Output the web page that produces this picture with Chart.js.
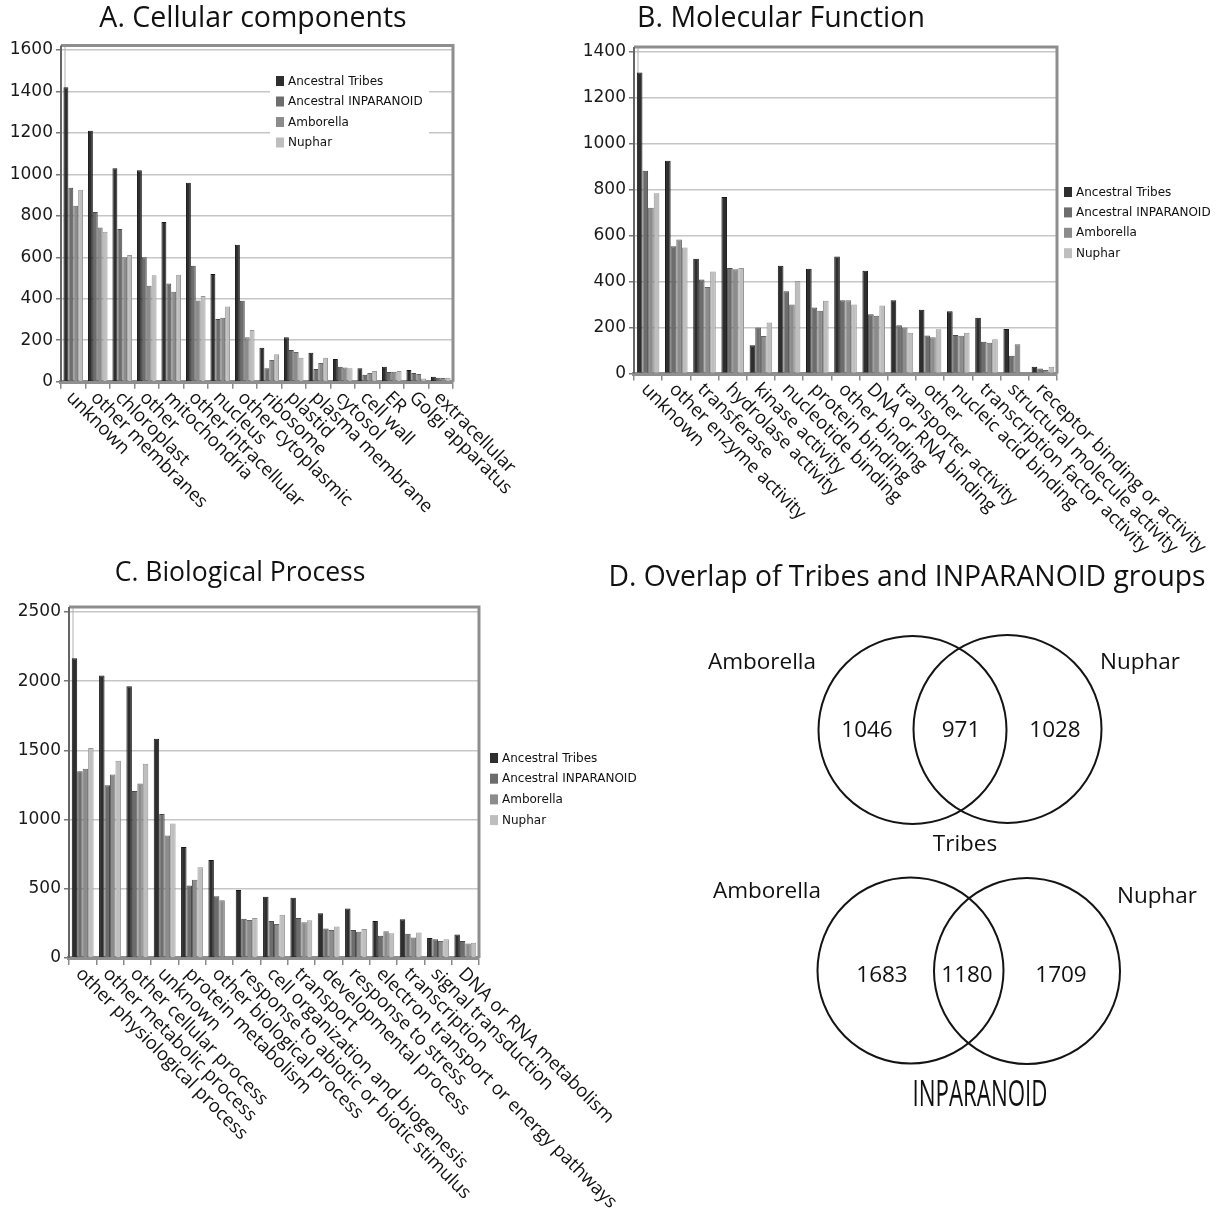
<!DOCTYPE html>
<html>
<head>
<meta charset="utf-8">
<script src="https://cdn.jsdelivr.net/npm/chart.js@4.4.1/dist/chart.umd.min.js"></script>
<style>
html,body{margin:0;padding:0;background:#fff;}
body{width:1230px;height:1214px;position:relative;overflow:hidden;}
canvas{position:absolute;}
</style>
</head>
<body>
<canvas id="chartA" style="left:0px;top:0px" width="560" height="540"></canvas>
<canvas id="chartB" style="left:560px;top:0px" width="670" height="560"></canvas>
<canvas id="chartC" style="left:0px;top:540px" width="648" height="674"></canvas>
<canvas id="chartD" style="left:600px;top:540px" width="630" height="570"></canvas>
<script>
// ---------- DATA ----------
const seriesNames = ['Ancestral Tribes', 'Ancestral INPARANOID', 'Amborella', 'Nuphar'];

// A. Cellular components
const ccCategories = ['unknown', 'other membranes', 'chloroplast', 'other', 'mitochondria', 'other intracellular', 'nucleus', 'other cytoplasmic', 'ribosome', 'plastid', 'plasma membrane', 'cytosol', 'cell wall', 'ER', 'Golgi apparatus', 'extracellular'];
const ccTribes     = [1420, 1210, 1030, 1020, 770, 960, 520, 660, 164, 214, 140, 109, 65, 72, 56, 24];
const ccInparanoid = [ 935,  818,  736,  600, 474, 559, 302, 391,  65, 153,  61,  72, 33, 47, 42, 19];
const ccAmborella  = [ 849,  744,  600,  463, 434, 392, 309, 215, 105, 143,  90,  68, 42, 48, 37, 18];
const ccNuphar     = [ 926,  723,  611,  514, 516, 413, 363, 249, 133, 115, 115,  65, 52, 52, 15, 19];

// B. Molecular Function
const mfCategories = ['unknown', 'other enzyme activity', 'transferase', 'hydrolase activity', 'kinase activity', 'nucleotide binding', 'protein binding', 'other binding', 'DNA or RNA binding', 'transporter activity', 'other', 'nucleic acid binding', 'transcription factor activity', 'structural molecule activity', 'receptor binding or activity'];
const mfTribes     = [1310, 926, 499, 768, 123, 469, 456, 509, 447, 319, 277, 271, 243, 194, 29];
const mfInparanoid = [ 882, 554, 409, 459, 200, 358, 287, 319, 258, 210, 165, 168, 138,  77, 22];
const mfAmborella  = [ 721, 583, 376, 454, 163, 300, 273, 319, 251, 200, 158, 164, 134, 127, 15];
const mfNuphar     = [ 784, 548, 444, 459, 222, 402, 316, 300, 296, 177, 192, 177, 149,   0, 29];

// C. Biological Process
const bpCategories = ['other physiological process', 'other metabolic process', 'other cellular process', 'unknown', 'protein metabolism', 'other biological process', 'response to abiotic or biotic stimulus', 'cell organization and biogenesis', 'transport', 'developmental process', 'response to stress', 'electron transport or energy pathways', 'transcription', 'signal transduction', 'DNA or RNA metabolism'];
const bpTribes     = [2165, 2042, 1963, 1585, 802, 708, 491, 443, 436, 323, 357, 267, 280, 145, 170];
const bpInparanoid = [1349, 1248, 1207, 1040, 523, 446, 284, 267, 289, 214, 202, 161, 176, 135, 122];
const bpAmborella  = [1368, 1325, 1260,  886, 566, 417, 275, 246, 258, 202, 190, 193, 149, 123, 104];
const bpNuphar     = [1517, 1426, 1404,  971, 655,   0, 289, 313, 272, 227, 210, 178, 185, 135, 110];

// D. Overlap of Tribes and INPARANOID groups
const vennSetNames   = ['Amborella', 'Nuphar'];
const vennGroupNames = ['Tribes', 'INPARANOID'];
const tribesCounts     = [1046, 971, 1028];   // Amborella only, shared, Nuphar only
const inparanoidCounts = [1683, 1180, 1709];

// ---------- STYLE ----------
const seriesColors = ['#2e2e2e', '#6d6d6d', '#8c8c8c', '#bebebe'];
const seriesEdges  = ['#161616', '#4a4a4a', '#666666', '#969696'];
const TXT = '#111111';

// ---------- PLUGINS ----------
const panelTitle = {
  id: 'panelTitle',
  afterDraw(chart, args, o) {
    if (!o || !o.text) return;
    const ctx = chart.ctx;
    ctx.save();
    ctx.fillStyle = TXT;
    ctx.font = o.font;
    ctx.textAlign = 'center';
    ctx.textBaseline = 'middle';
    ctx.fillText(o.text, o.x, o.y);
    ctx.restore();
  }
};

const slantLabels = {
  id: 'slantLabels',
  afterDraw(chart, args, o) {
    if (!o || !o.enabled) return;
    const sx = chart.scales.x, ctx = chart.ctx, base = chart.chartArea.bottom;
    ctx.save();
    ctx.fillStyle = TXT;
    ctx.font = o.font;
    ctx.textAlign = 'left';
    ctx.textBaseline = 'middle';
    chart.data.labels.forEach((lab, i) => {
      ctx.save();
      ctx.translate(sx.getPixelForTick(i) + o.dx, base + o.dy);
      ctx.rotate(Math.PI / 4);
      ctx.fillText(lab, 0, 0);
      ctx.restore();
    });
    ctx.restore();
  }
};

const plotFrame = {
  id: 'plotFrame',
  beforeDatasetsDraw(chart, args, o) {
    if (!o || !o.enabled) return;
    const {left, right, top, bottom} = chart.chartArea;
    const ctx = chart.ctx;
    ctx.save();
    ctx.strokeStyle = '#b0b0b0';
    ctx.lineWidth = 1;
    ctx.beginPath();
    ctx.moveTo(left + 4, top - o.depth);
    ctx.lineTo(left + 4, bottom);
    ctx.stroke();
    ctx.restore();
  },
  afterDraw(chart, args, o) {
    if (!o || !o.enabled) return;
    const {left, right, top, bottom} = chart.chartArea;
    const ctx = chart.ctx;
    ctx.save();
    ctx.strokeStyle = '#8e8e8e';
    ctx.lineWidth = 3;
    ctx.beginPath();
    ctx.moveTo(left, top - o.depth);
    ctx.lineTo(right, top - o.depth);
    ctx.lineTo(right, bottom);
    ctx.stroke();
    ctx.strokeStyle = '#666';
    ctx.lineWidth = 2;
    ctx.beginPath();
    ctx.moveTo(left, top - o.depth);
    ctx.lineTo(left, bottom);
    ctx.stroke();
    ctx.restore();
  }
};

const seriesKey = {
  id: 'seriesKey',
  afterDraw(chart, args, o) {
    if (!o || !o.enabled) return;
    const ctx = chart.ctx;
    ctx.save();
    if (o.box) {
      ctx.fillStyle = '#fff';
      ctx.fillRect(o.box[0], o.box[1], o.box[2], o.box[3]);
    }
    ctx.font = o.font;
    ctx.textAlign = 'left';
    ctx.textBaseline = 'middle';
    chart.data.datasets.forEach((ds, i) => {
      const y = o.y + i * o.dy;
      ctx.fillStyle = ds.backgroundColor;
      ctx.fillRect(o.x, y - 5, 8, 10);
      ctx.fillStyle = TXT;
      ctx.fillText(ds.label, o.x + 12, y + 0.5);
    });
    ctx.restore();
  }
};

function datasetsFrom(values) {
  return values.map((v, i) => ({
    label: seriesNames[i],
    data: v,
    backgroundColor: seriesColors[i],
    borderColor: seriesEdges[i],
    borderWidth: 1,
    categoryPercentage: 0.8,
    barPercentage: 1.0
  }));
}

function barChart(id, labels, values, cfg) {
  return new Chart(document.getElementById(id), {
    type: 'bar',
    data: { labels: labels, datasets: datasetsFrom(values) },
    options: {
      responsive: false,
      animation: false,
      devicePixelRatio: 1,
      events: [],
      layout: { padding: { left: 0, top: cfg.top, right: cfg.right, bottom: 0 } },
      plugins: {
        legend: { display: false },
        tooltip: { enabled: false },
        title: { display: false },
        panelTitle: { text: cfg.title, x: cfg.titleX, y: cfg.titleY, font: cfg.titleFont },
        slantLabels: { enabled: true, font: '18.5px "Open Sans"', dx: cfg.lx, dy: cfg.ly },
        plotFrame: { enabled: true, depth: cfg.depth },
        seriesKey: { enabled: true, x: cfg.keyX, y: cfg.keyY, dy: cfg.keyDy, box: cfg.keyBox, font: '12px "DejaVu Sans"' }
      },
      scales: {
        x: {
          grid: { display: true, drawOnChartArea: false, drawTicks: true, tickLength: 7, tickColor: '#8a8a8a', lineWidth: 1.5, offset: true },
          border: { display: true, color: '#8f8f8f', width: 4 },
          ticks: { display: false },
          afterFit: (s) => { s.height = cfg.xh; }
        },
        y: {
          min: 0, max: cfg.max,
          ticks: { stepSize: cfg.step, color: '#1a1a1a', font: { family: 'DejaVu Sans', size: 17 }, padding: 3,
                   callback: (v) => String(v) },
          grid: { color: '#c6c6c6', lineWidth: 1.5, tickColor: '#777', tickLength: 5, drawTicks: true },
          border: { display: false },
          afterFit: (s) => { s.width = cfg.yw; }
        }
      }
    },
    plugins: [panelTitle, slantLabels, plotFrame, seriesKey]
  });
}

barChart('chartA', ccCategories, [ccTribes, ccInparanoid, ccAmborella, ccNuphar], {
  top: 50, right: 107, yw: 61, xh: 158.3, max: 1600, step: 200, depth: 4.5,
  title: 'A. Cellular components', titleX: 253, titleY: 19, titleFont: '28.5px "Open Sans"',
  lx: -4, ly: 13,
  keyX: 276, keyY: 81, keyDy: 20.5, keyBox: [270, 60, 159, 100]
});

barChart('chartB', mfCategories, [mfTribes, mfInparanoid, mfAmborella, mfNuphar], {
  top: 51.7, right: 173, yw: 74, xh: 186.5, max: 1400, step: 200, depth: 4.7,
  title: 'B. Molecular Function', titleX: 221, titleY: 19, titleFont: '28.5px "Open Sans"',
  lx: -4, ly: 13,
  keyX: 504, keyY: 192, keyDy: 20.4, keyBox: null
});

barChart('chartC', bpCategories, [bpTribes, bpInparanoid, bpAmborella, bpNuphar], {
  top: 72, right: 169, yw: 69, xh: 256, max: 2500, step: 500, depth: 5,
  title: 'C. Biological Process', titleX: 240, titleY: 33, titleFont: '26.5px "Open Sans"',
  lx: -4, ly: 13,
  keyX: 490, keyY: 218, keyDy: 20.7, keyBox: null
});

// ---------- D: Venn diagrams (bubble chart) ----------
const vennLayout = {
  rows: [
    { circles: [[312.5, 190, 94], [407.5, 189, 94]], counts: [[267, 191], [361, 191], [455, 191]],
      setLabels: [[162, 123], [540, 123]], groupLabel: [365, 305] },
    { circles: [[310.5, 430.5, 93], [427, 431, 93]], counts: [[282, 436], [367, 436], [461, 436]],
      setLabels: [[167, 352], [557, 357]], groupLabel: [380, 556] }
  ]
};
const vennCounts = [tribesCounts, inparanoidCounts];

const vennText = {
  id: 'vennText',
  afterDraw(chart) {
    const ctx = chart.ctx, sx = chart.scales.x, sy = chart.scales.y;
    ctx.save();
    ctx.fillStyle = TXT;
    ctx.textAlign = 'center';
    ctx.textBaseline = 'middle';
    ctx.font = '28.3px "Open Sans"';
    ctx.fillText('D. Overlap of Tribes and INPARANOID groups', 307, 38);
    vennLayout.rows.forEach((row, r) => {
      ctx.font = '22.5px "Open Sans"';
      vennCounts[r].forEach((n, k) => {
        ctx.fillText(String(n), sx.getPixelForValue(row.counts[k][0]), sy.getPixelForValue(row.counts[k][1]));
      });
      vennSetNames.forEach((nm, k) => {
        ctx.fillText(nm, sx.getPixelForValue(row.setLabels[k][0]), sy.getPixelForValue(row.setLabels[k][1]));
      });
      const gx = sx.getPixelForValue(row.groupLabel[0]), gy = sy.getPixelForValue(row.groupLabel[1]);
      if (r === 0) {
        ctx.fillText(vennGroupNames[r], gx, gy);
      } else {
        ctx.save();
        ctx.translate(gx, gy);
        ctx.scale(0.62, 1);
        ctx.font = '36px "Open Sans"';
        ctx.fillText(vennGroupNames[r], 0, 0);
        ctx.restore();
      }
    });
    ctx.restore();
  }
};

new Chart(document.getElementById('chartD'), {
  type: 'bubble',
  data: {
    datasets: vennLayout.rows.map((row, r) => ({
      label: vennGroupNames[r],
      data: row.circles.map(c => ({ x: c[0], y: c[1], r: c[2] })),
      backgroundColor: 'rgba(0,0,0,0)',
      borderColor: '#141414',
      borderWidth: 2
    }))
  },
  options: {
    responsive: false,
    animation: false,
    devicePixelRatio: 1,
    events: [],
    layout: { padding: 0, autoPadding: false },
    plugins: { legend: { display: false }, tooltip: { enabled: false } },
    scales: {
      x: { type: 'linear', display: false, min: 0, max: 630 },
      y: { type: 'linear', display: false, min: 0, max: 570, reverse: true }
    }
  },
  plugins: [vennText]
});
</script>
</body>
</html>
